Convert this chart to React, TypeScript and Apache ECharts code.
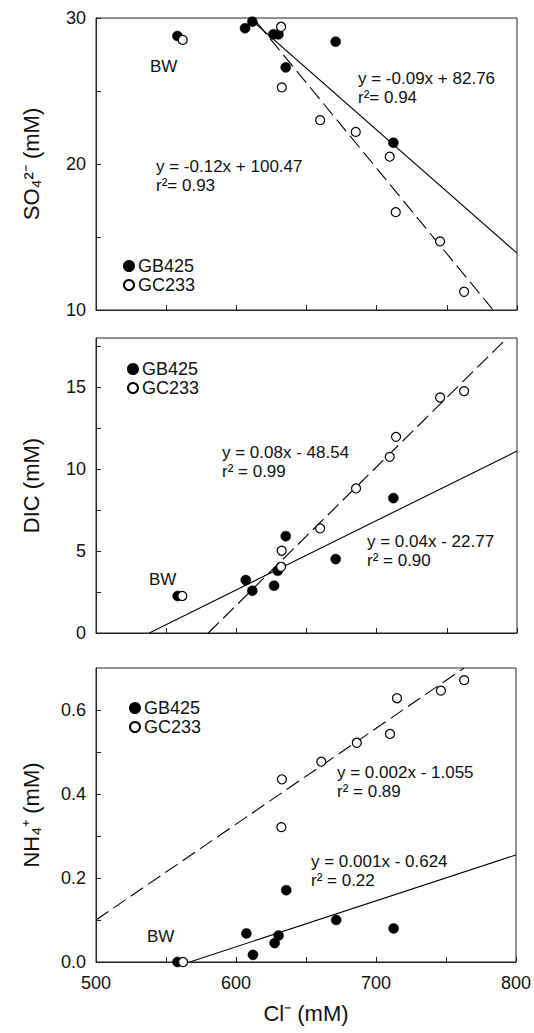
import React, { useEffect, useRef } from "react";
import * as echarts from "echarts";

// ---- Data ----
// Panel 1: SO4 2- (mM) vs Cl- (mM)
const so4GB425: [number, number][] = [
  [558.0, 28.77], [606.2, 29.3], [611.4, 29.75], [626.4, 28.88], [630.0, 28.88],
  [670.8, 28.38], [635.2, 26.62], [711.9, 21.46],
];
const so4GC233: [number, number][] = [
  [561.8, 28.5], [631.9, 29.4], [632.4, 25.25], [659.7, 23.0], [685.1, 22.2],
  [709.3, 20.5], [713.6, 16.7], [745.2, 14.7], [762.3, 11.25],
];
const so4FitGB425: [number, number][] = [[611, 29.85], [800, 13.9]];
const so4FitGC233: [number, number][] = [[614.5, 29.7], [783, 10]];

// Panel 2: DIC (mM)
const dicGB425: [number, number][] = [
  [558.2, 2.26], [606.7, 3.23], [611.4, 2.58], [626.9, 2.89], [629.5, 3.8],
  [635.2, 5.91], [670.8, 4.51], [711.9, 8.23],
];
const dicGC233: [number, number][] = [
  [561.5, 2.26], [632.3, 5.02], [631.9, 4.04], [659.7, 6.38], [685.3, 8.82],
  [709.3, 10.75], [713.8, 11.97], [745.2, 14.37], [762.3, 14.76],
];
const dicFitGB425: [number, number][] = [[538, 0], [800, 11.1]];
const dicFitGC233: [number, number][] = [[580, 0], [793, 18]];

// Panel 3: NH4+ (mM)
const nh4GB425: [number, number][] = [
  [558.2, 0.0], [607.4, 0.068], [612.1, 0.017], [627.6, 0.045], [630.4, 0.063],
  [635.9, 0.171], [671.6, 0.1], [712.6, 0.08],
];
const nh4GC233: [number, number][] = [
  [562.2, 0.0], [632.8, 0.435], [632.4, 0.321], [660.9, 0.477], [686.3, 0.522],
  [710.0, 0.543], [715.0, 0.628], [746.4, 0.646], [763.0, 0.671],
];
const nh4FitGB425: [number, number][] = [[567, 0], [800, 0.255]];
const nh4FitGC233: [number, number][] = [[500, 0.1], [763, 0.7]];

const xTickLabels = ["500", "600", "700", "800"];
const yTitles = ["SO\u2084\u00B2\u207B (mM)", "DIC (mM)", "NH\u2084\u207A (mM)"];
const xTitle = "Cl\u207B (mM)";
const seriesNames = ["GB425", "GC233"];

const FONT = "'Liberation Sans', Arial, Helvetica, sans-serif";
const TXT = "#111";

export default function App() {
  const ref = useRef<HTMLDivElement>(null);

  useEffect(() => {
    if (!ref.current) return;
    const chart = echarts.init(ref.current, null, { renderer: "svg" });

    const grids = [
      { left: 96, top: 18, width: 421, height: 292 },
      { left: 96, top: 338, width: 421, height: 295 },
      { left: 96, top: 668, width: 421, height: 294 },
    ].map((g) => ({ ...g, show: true, borderColor: "#222", borderWidth: 1, backgroundColor: "transparent" }));

    const tick = { show: true, inside: true, length: 5, lineStyle: { color: "#222", width: 1 } };
    const axisLine = { show: true, onZero: false, lineStyle: { color: "#222", width: 1 } };

    const xAxes = [0, 1, 2].map((i) => ({
      type: "value",
      gridIndex: i,
      min: 500,
      max: 800,
      interval: 50,
      axisLine,
      axisTick: tick,
      splitLine: { show: false },
      axisLabel: {
        show: i === 2,
        fontSize: 18,
        color: TXT,
        fontFamily: FONT,
        margin: 12,
        formatter: (v: number) => (xTickLabels.includes(String(v)) ? String(v) : ""),
      },
      name: i === 2 ? xTitle : "",
      nameLocation: "middle",
      nameGap: 40,
      nameTextStyle: { fontSize: 22, color: TXT, fontFamily: FONT },
    }));

    const yCommon = (i: number) => ({
      type: "value",
      gridIndex: i,
      axisLine,
      axisTick: tick,
      splitLine: { show: false },
      name: yTitles[i],
      nameLocation: "middle",
      nameGap: 54,
      nameTextStyle: { fontSize: 22, color: TXT, fontFamily: FONT },
    });
    const labelStyle = { fontSize: 18, color: TXT, fontFamily: FONT, margin: 10 };
    const yAxes = [
      {
        ...yCommon(0),
        min: 10,
        max: 30,
        interval: 5,
        axisLabel: { ...labelStyle, formatter: (v: number) => (v % 10 === 0 ? String(v) : "") },
      },
      {
        ...yCommon(1),
        min: 0,
        max: 18,
        interval: 2.5,
        axisLabel: {
          ...labelStyle,
          showMaxLabel: false,
          formatter: (v: number) => (v % 5 === 0 && v <= 15 ? String(v) : ""),
        },
      },
      {
        ...yCommon(2),
        min: 0,
        max: 0.7,
        interval: 0.1,
        axisLabel: {
          ...labelStyle,
          showMaxLabel: false,
          formatter: (v: number) => {
            const k = Math.round(v * 10);
            return k % 2 === 0 && k <= 6 ? (k / 10).toFixed(1) : "";
          },
        },
      },
    ];

    const filled = (name: string, data: [number, number][], i: number) => ({
      name,
      type: "scatter",
      xAxisIndex: i,
      yAxisIndex: i,
      data,
      symbol: "circle",
      symbolSize: 10,
      itemStyle: { color: "#000", borderColor: "#000", borderWidth: 0.5, opacity: 1 },
      z: 3,
    });
    const open = (name: string, data: [number, number][], i: number) => ({
      name,
      type: "scatter",
      xAxisIndex: i,
      yAxisIndex: i,
      data,
      symbol: "circle",
      symbolSize: 9,
      itemStyle: { color: "#fff", borderColor: "#000", borderWidth: 1.2, opacity: 1 },
      z: 4,
    });
    const fit = (name: string, data: [number, number][], i: number, dashed: boolean) => ({
      name,
      type: "line",
      xAxisIndex: i,
      yAxisIndex: i,
      data,
      symbol: "none",
      silent: true,
      lineStyle: { color: "#000", width: 1.1, type: dashed ? [15, 6] : "solid" },
      z: 2,
    });

    const series = [
      fit("GB425 fit", so4FitGB425, 0, false),
      fit("GC233 fit", so4FitGC233, 0, true),
      filled(seriesNames[0], so4GB425, 0),
      open(seriesNames[1], so4GC233, 0),
      fit("GB425 fit", dicFitGB425, 1, false),
      fit("GC233 fit", dicFitGC233, 1, true),
      filled(seriesNames[0], dicGB425, 1),
      open(seriesNames[1], dicGC233, 1),
      fit("GB425 fit", nh4FitGB425, 2, false),
      fit("GC233 fit", nh4FitGC233, 2, true),
      filled(seriesNames[0], nh4GB425, 2),
      open(seriesNames[1], nh4GC233, 2),
    ];

    const legendAt = (left: number, top: number) => ({
      left,
      top,
      orient: "vertical",
      data: seriesNames,
      icon: "circle",
      itemWidth: 10,
      itemHeight: 10,
      itemGap: 1,
      selectedMode: false,
      padding: 0,
      textStyle: { fontSize: 18, color: TXT, fontFamily: FONT, padding: [0, 0, 0, -1] },
    });

    const t = (x: number, y: number, text: string, size = 17) => ({
      type: "text",
      x,
      y,
      silent: true,
      style: { text, fontSize: size, fontFamily: FONT, fill: TXT, textVerticalAlign: "top" },
    });

    const graphic = [
      t(150, 58, "BW", 17),
      t(358, 70, "y = -0.09x + 82.76"),
      t(358, 89, "r\u00B2= 0.94"),
      t(156, 158, "y = -0.12x + 100.47"),
      t(156, 177, "r\u00B2= 0.93"),

      t(222, 444, "y = 0.08x - 48.54"),
      t(222, 463, "r\u00B2 = 0.99"),
      t(367, 533, "y = 0.04x - 22.77"),
      t(367, 552, "r\u00B2 = 0.90"),
      t(149, 571, "BW", 17),

      t(337, 764, "y = 0.002x - 1.055"),
      t(337, 783, "r\u00B2 = 0.89"),
      t(311, 853, "y = 0.001x - 0.624"),
      t(311, 872, "r\u00B2 = 0.22"),
      t(147, 928, "BW", 17),
    ];

    chart.setOption({
      animation: false,
      backgroundColor: "#fff",
      textStyle: { fontFamily: FONT },
      grid: grids,
      xAxis: xAxes,
      yAxis: yAxes,
      legend: [legendAt(123, 257), legendAt(127, 360), legendAt(129, 699)],
      series,
      graphic,
    });

    return () => chart.dispose();
  }, []);

  return (
    <div
      ref={ref}
      style={{ position: "fixed", left: 0, top: 0, width: 534, height: 1033, background: "#fff" }}
    />
  );
}
